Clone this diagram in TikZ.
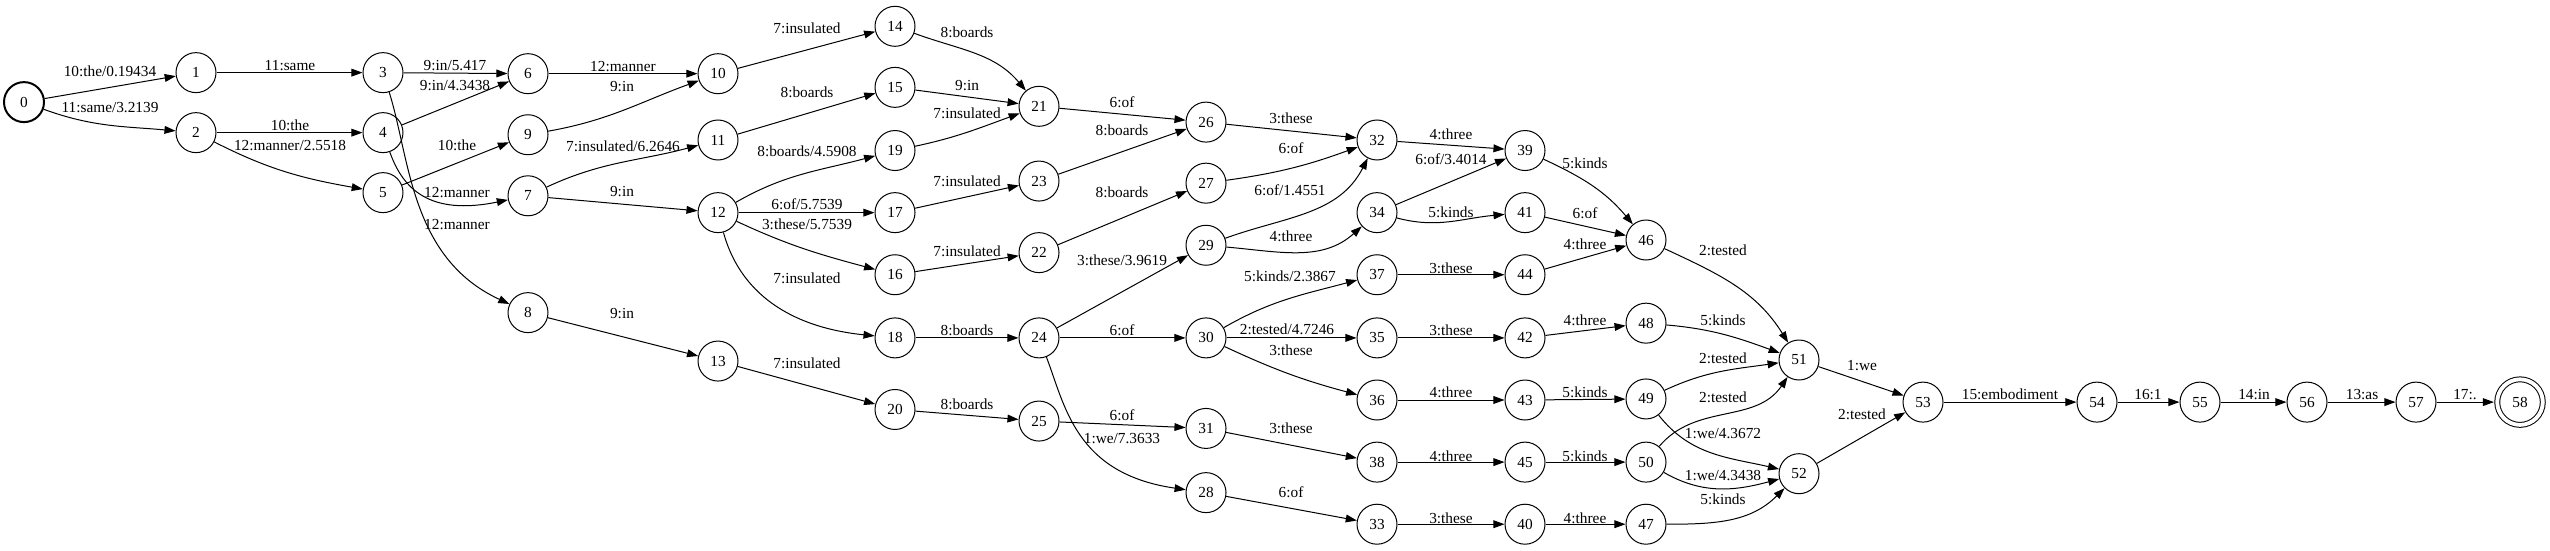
\documentclass[tikz,border=0pt]{standalone}
\usepackage{fontspec}
\setmainfont{Liberation Serif}
\usetikzlibrary{arrows.meta}
\begin{document}
\begin{tikzpicture}[x=0.9pt,y=0.94737pt,
  st/.style={circle,draw,line width=0.9pt,minimum size=36pt,inner sep=0pt,font=\fontsize{13.8}{16}\selectfont},
  e/.style={line width=0.9pt,-{Triangle[length=10pt,width=7pt]}},
  lb/.style={inner sep=0pt,font=\fontsize{13.8}{16}\selectfont}]
\useasboundingbox (0,0) rectangle (2550,-522.5);
% states
\node[st,line width=1.8pt] (n0) at (24,-97) {0};
\node[st] (n1) at (196,-69) {1};
\node[st] (n2) at (196,-126) {2};
\node[st] (n3) at (383,-69) {3};
\node[st] (n4) at (383,-126) {4};
\node[st] (n5) at (383,-183) {5};
\node[st] (n6) at (528,-70) {6};
\node[st] (n9) at (528,-128) {9};
\node[st] (n7) at (528,-186) {7};
\node[st] (n8) at (528,-297) {8};
\node[st] (n10) at (718,-70) {10};
\node[st] (n11) at (718,-133) {11};
\node[st] (n12) at (718,-202) {12};
\node[st] (n13) at (718,-343) {13};
\node[st] (n14) at (895,-25) {14};
\node[st] (n15) at (895,-83) {15};
\node[st] (n19) at (895,-143) {19};
\node[st] (n17) at (895,-202) {17};
\node[st] (n16) at (895,-261) {16};
\node[st] (n18) at (895,-321) {18};
\node[st] (n20) at (895,-389) {20};
\node[st] (n21) at (1039,-101) {21};
\node[st] (n23) at (1039,-172) {23};
\node[st] (n22) at (1039,-240) {22};
\node[st] (n24) at (1039,-321) {24};
\node[st] (n25) at (1039,-400) {25};
\node[st] (n26) at (1206,-116) {26};
\node[st] (n27) at (1206,-174) {27};
\node[st] (n29) at (1206,-233) {29};
\node[st] (n30) at (1206,-321) {30};
\node[st] (n31) at (1206,-407) {31};
\node[st] (n28) at (1206,-468) {28};
\node[st] (n32) at (1377,-133) {32};
\node[st] (n34) at (1377,-202) {34};
\node[st] (n37) at (1377,-261) {37};
\node[st] (n35) at (1377,-321) {35};
\node[st] (n36) at (1377,-380) {36};
\node[st] (n38) at (1377,-439) {38};
\node[st] (n33) at (1377,-498) {33};
\node[st] (n39) at (1525,-143) {39};
\node[st] (n41) at (1525,-202) {41};
\node[st] (n44) at (1525,-261) {44};
\node[st] (n42) at (1525,-321) {42};
\node[st] (n43) at (1525,-380) {43};
\node[st] (n45) at (1525,-439) {45};
\node[st] (n40) at (1525,-498) {40};
\node[st] (n46) at (1646,-228) {46};
\node[st] (n48) at (1646,-307) {48};
\node[st] (n49) at (1646,-379) {49};
\node[st] (n50) at (1646,-439) {50};
\node[st] (n47) at (1646,-498) {47};
\node[st] (n51) at (1799,-342) {51};
\node[st] (n52) at (1799,-450) {52};
\node[st] (n53) at (1923,-382) {53};
\node[st] (n54) at (2097,-382) {54};
\node[st] (n55) at (2200,-382) {55};
\node[st] (n56) at (2307,-382) {56};
\node[st] (n57) at (2416,-382) {57};
\node[st,double,double distance=3.5pt,minimum size=41pt,outer sep=3pt] (n58) at (2520,-382) {58};
% straight transitions
\foreach \a/\b in {0/1,1/3,2/4,3/6,4/6,5/9,6/10,7/12,8/13,10/14,11/15,12/17,13/20,
  15/21,17/23,16/22,18/24,20/25,21/26,23/26,22/27,24/29,24/30,25/31,26/32,30/35,
  31/38,28/33,32/39,34/39,37/44,35/42,36/43,38/45,33/40,41/46,44/46,42/48,43/49,
  45/50,40/47,51/53,52/53,53/54,54/55,55/56,56/57,57/58}
  \draw[e] (n\a) -- (n\b);
% curved transitions
\draw[e] (n0) to[out=-20,in=175] (n2);
\draw[e] (n2) to[out=-27,in=170] (n5);
\draw[e] (n3) .. controls (410,-150) and (410,-245) .. (n8);
\draw[e] (n4) .. controls (403,-180) and (430,-205) .. (n7);
\draw[e] (n9) to[out=10,in=200] (n10);
\draw[e] (n7) to[out=25,in=195] (n11);
\draw[e] (n12) to[out=30,in=195] (n19);
\draw[e] (n12) to[out=-25,in=165] (n16);
\draw[e] (n12) .. controls (742,-285) and (800,-312) .. (n18);
\draw[e] (n14) to[out=-20,in=130] (n21);
\draw[e] (n19) to[out=12,in=200] (n21);
\draw[e] (n24) .. controls (1065,-385) and (1075,-450) .. (n28);
\draw[e] (n27) to[out=8,in=200] (n32);
\draw[e] (n29) to[out=20,in=243] (n32);
\draw[e] (n29) to[out=-5,in=222] (n34);
\draw[e] (n30) to[out=30,in=195] (n37);
\draw[e] (n30) to[out=-25,in=165] (n36);
\draw[e] (n34) to[out=-15,in=185] (n41);
\draw[e] (n39) to[out=-25,in=130] (n46);
\draw[e] (n46) to[out=-25,in=122] (n51);
\draw[e] (n48) to[out=-5,in=160] (n51);
\draw[e] (n49) to[out=25,in=188] (n51);
\draw[e] (n50) to[out=50,in=236] (n51);
\draw[e] (n49) to[out=-52,in=167] (n52);
\draw[e] (n50) to[out=-30,in=195] (n52);
\draw[e] (n47) to[out=0,in=225] (n52);
% labels
\node[lb] (l0-1) at (110,-68) {10:the/0.19434};
\node[lb] (l0-2) at (110,-102) {11:same/3.2139};
\node[lb] (l1-3) at (290,-62) {11:same};
\node[lb] (l2-4) at (290,-119) {10:the};
\node[lb] (l2-5) at (290,-138) {12:manner/2.5518};
\node[lb] (l3-6) at (455,-62) {9:in/5.417};
\node[lb] (l4-6) at (455,-81) {9:in/4.3438};
\node[lb] (l5-9) at (457,-138) {10:the};
\node[lb] (l4-7) at (457,-183) {12:manner};
\node[lb] (l3-8) at (457,-213) {12:manner};
\node[lb] (l6-10) at (623,-63) {12:manner};
\node[lb] (l9-10) at (622,-82) {9:in};
\node[lb] (l7-11) at (623,-139) {7:insulated/6.2646};
\node[lb] (l7-12) at (622,-182) {9:in};
\node[lb] (l8-13) at (622,-298) {9:in};
\node[lb] (l10-14) at (807,-27) {7:insulated};
\node[lb] (l11-15) at (807,-88) {8:boards};
\node[lb] (l12-19) at (807,-144) {8:boards/4.5908};
\node[lb] (l12-17) at (807,-194) {6:of/5.7539};
\node[lb] (l12-16) at (807,-213) {3:these/5.7539};
\node[lb] (l12-18) at (807,-264) {7:insulated};
\node[lb] (l13-20) at (807,-345) {7:insulated};
\node[lb] (l14-21) at (967,-31) {8:boards};
\node[lb] (l15-21) at (967,-81) {9:in};
\node[lb] (l19-21) at (967,-108) {7:insulated};
\node[lb] (l17-23) at (967,-172) {7:insulated};
\node[lb] (l16-22) at (967,-239) {7:insulated};
\node[lb] (l18-24) at (967,-314) {8:boards};
\node[lb] (l20-25) at (967,-384) {8:boards};
\node[lb] (l21-26) at (1122,-97) {6:of};
\node[lb] (l23-26) at (1122,-124) {8:boards};
\node[lb] (l22-27) at (1122,-183) {8:boards};
\node[lb] (l24-29) at (1122,-247) {3:these/3.9619};
\node[lb] (l24-30) at (1122,-314) {6:of};
\node[lb] (l25-31) at (1122,-394) {6:of};
\node[lb] (l24-28) at (1122,-417) {1:we/7.3633};
\node[lb] (l26-32) at (1291,-112) {3:these};
\node[lb] (l27-32) at (1291,-141) {6:of};
\node[lb] (l29-32) at (1290,-181) {6:of/1.4551};
\node[lb] (l29-34) at (1291,-224) {4:three};
\node[lb] (l30-37) at (1290,-262) {5:kinds/2.3867};
\node[lb] (l30-35) at (1287,-313) {2:tested/4.7246};
\node[lb] (l30-36) at (1291,-333) {3:these};
\node[lb] (l31-38) at (1291,-407) {3:these};
\node[lb] (l28-33) at (1291,-468) {6:of};
\node[lb] (l32-39) at (1451,-128) {4:three};
\node[lb] (l34-39) at (1451,-151) {6:of/3.4014};
\node[lb] (l34-41) at (1451,-202) {5:kinds};
\node[lb] (l37-44) at (1451,-255) {3:these};
\node[lb] (l35-42) at (1451,-314) {3:these};
\node[lb] (l36-43) at (1451,-373) {4:three};
\node[lb] (l38-45) at (1451,-433) {4:three};
\node[lb] (l33-40) at (1451,-492) {3:these};
\node[lb] (l39-46) at (1585,-155) {5:kinds};
\node[lb] (l41-46) at (1585,-203) {6:of};
\node[lb] (l44-46) at (1585,-232) {4:three};
\node[lb] (l42-48) at (1585,-304) {4:three};
\node[lb] (l43-49) at (1585,-373) {5:kinds};
\node[lb] (l45-50) at (1585,-433) {5:kinds};
\node[lb] (l40-47) at (1585,-492) {4:three};
\node[lb] (l46-51) at (1723,-238) {2:tested};
\node[lb] (l48-51) at (1723,-304) {5:kinds};
\node[lb] (l49-51) at (1723,-340) {2:tested};
\node[lb] (l50-51) at (1723,-377) {2:tested};
\node[lb] (l49-52) at (1723,-412) {1:we/4.3672};
\node[lb] (l50-52) at (1723,-452) {1:we/4.3438};
\node[lb] (l47-52) at (1723,-474) {5:kinds};
\node[lb] (l51-53) at (1862,-347) {1:we};
\node[lb] (l52-53) at (1862,-394) {2:tested};
\node[lb] (l53-54) at (2010,-375) {15:embodiment};
\node[lb] (l54-55) at (2148,-375) {16:1};
\node[lb] (l55-56) at (2254,-375) {14:in};
\node[lb] (l56-57) at (2362,-375) {13:as};
\node[lb] (l57-58) at (2465,-375) {17:.};
\end{tikzpicture}
\end{document}
